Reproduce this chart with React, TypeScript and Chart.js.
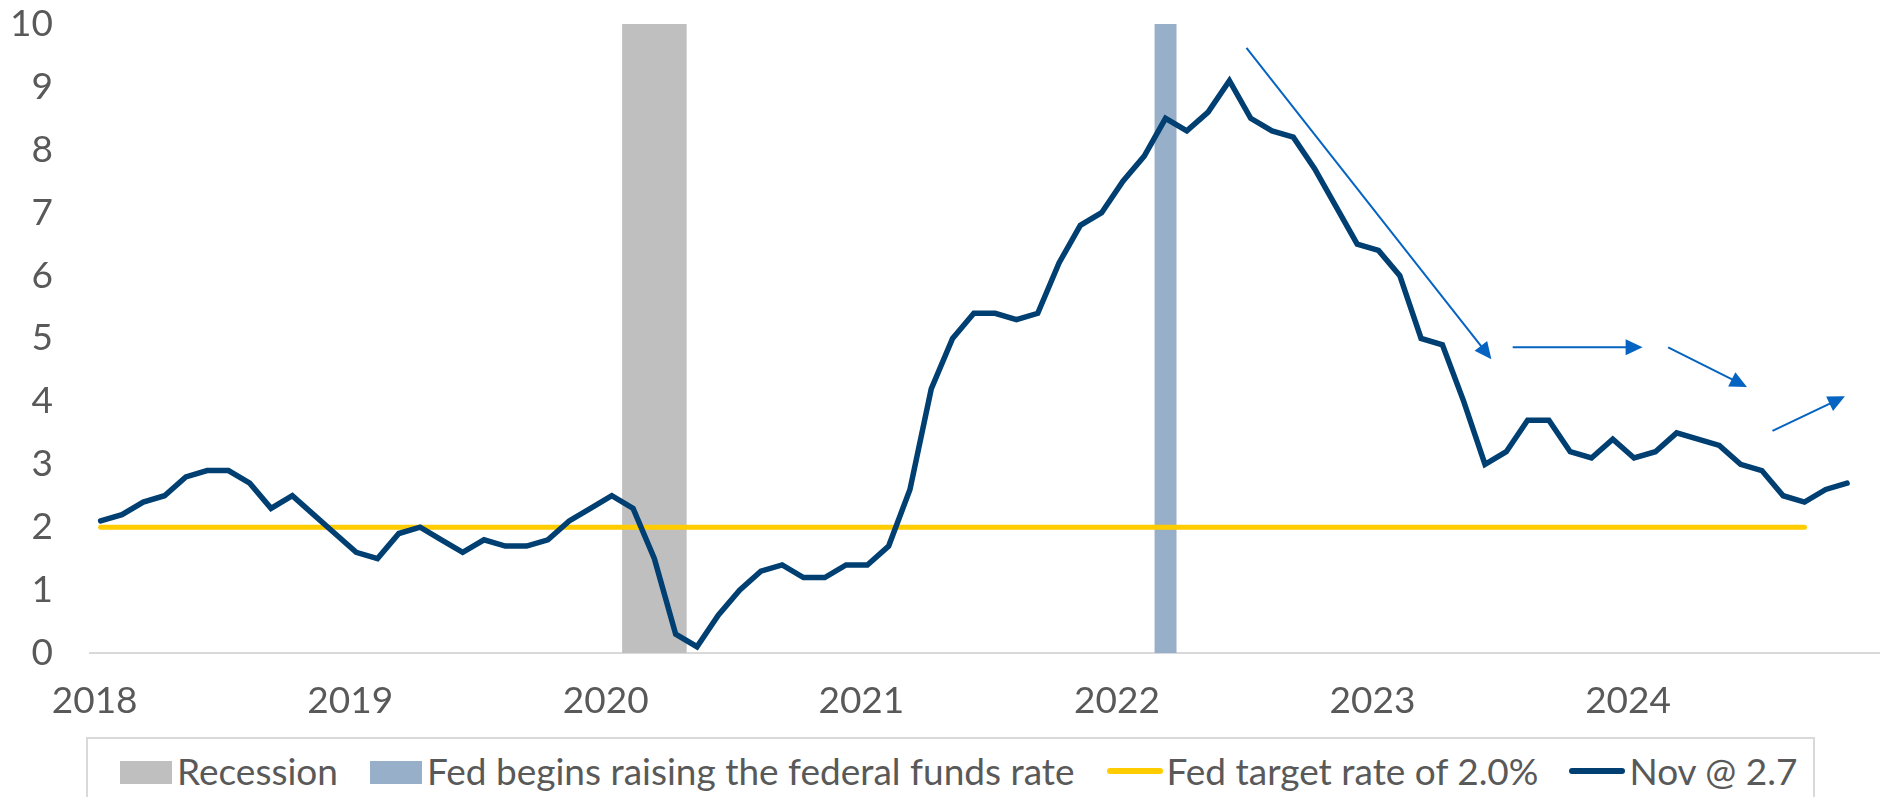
import React, { useEffect, useRef } from "react";
import { Chart, registerables } from "chart.js";

Chart.register(...registerables);

// ---- Data ----
const years: string[] = ["2018", "2019", "2020", "2021", "2022", "2023", "2024"];
const monthNames: string[] = ["Jan", "Feb", "Mar", "Apr", "May", "Jun", "Jul", "Aug", "Sep", "Oct", "Nov", "Dec"];
const months: string[] = years.flatMap((y) => monthNames.map((m) => `${m} ${y}`));

// CPI year-over-year, Jan 2018 – Nov 2024
const cpi: number[] = [
  2.1, 2.2, 2.4, 2.5, 2.8, 2.9, 2.9, 2.7, 2.3, 2.5, 2.2, 1.9,
  1.6, 1.5, 1.9, 2.0, 1.8, 1.6, 1.8, 1.7, 1.7, 1.8, 2.1, 2.3,
  2.5, 2.3, 1.5, 0.3, 0.1, 0.6, 1.0, 1.3, 1.4, 1.2, 1.2, 1.4,
  1.4, 1.7, 2.6, 4.2, 5.0, 5.4, 5.4, 5.3, 5.4, 6.2, 6.8, 7.0,
  7.5, 7.9, 8.5, 8.3, 8.6, 9.1, 8.5, 8.3, 8.2, 7.7, 7.1, 6.5,
  6.4, 6.0, 5.0, 4.9, 4.0, 3.0, 3.2, 3.7, 3.7, 3.2, 3.1, 3.4,
  3.1, 3.2, 3.5, 3.4, 3.3, 3.0, 2.9, 2.5, 2.4, 2.6, 2.7,
];

const targetRate = 2.0;
const targetEndMonth = "Sep 2024";
const recessionMonths: string[] = ["Feb 2020", "Mar 2020", "Apr 2020"];
const fedHikeMonths: string[] = ["Mar 2022"];
const shadeTop = 10;

const yTicks: number[] = [0, 1, 2, 3, 4, 5, 6, 7, 8, 9, 10];

// Trend arrows (in month-index / value coordinates)
const arrowFromIdx: number[] = [53.8, 66.3, 73.6, 78.5];
const arrowFromVal: number[] = [9.62, 4.86, 4.86, 3.53];
const arrowToIdx: number[] = [65.3, 72.4, 77.3, 81.9];
const arrowToVal: number[] = [4.67, 4.86, 4.23, 4.08];

const legendLabels: string[] = [
  "Recession",
  "Fed begins raising the federal funds rate",
  "Fed target rate of 2.0%",
  "Nov @ 2.7",
];

// ---- Styles ----
const COLORS = {
  navy: "#003F72",
  yellow: "#FFCC00",
  gray: "#BFBFBF",
  blue: "#97AFC8",
  arrow: "#0563C1",
  text: "#595959",
  axis: "#D9D9D9",
};
const FONT = "Lato, 'Open Sans', sans-serif";
const FONT_SIZE = 37;

const targetEndIdx = months.indexOf(targetEndMonth);
const targetData = months.map((_, i) => (i <= targetEndIdx ? targetRate : null));
const recessionData = months.map((m) => (recessionMonths.includes(m) ? shadeTop : null));
const fedData = months.map((m) => (fedHikeMonths.includes(m) ? shadeTop : null));

const arrowPlugin = {
  id: "trendArrows",
  afterDatasetsDraw(chart: any) {
    const { ctx, scales } = chart;
    const xs = scales.x;
    const ys = scales.y;
    ctx.save();
    ctx.strokeStyle = COLORS.arrow;
    ctx.fillStyle = COLORS.arrow;
    ctx.lineWidth = 2;
    const headLen = 17;
    const headHalf = 8;
    for (let i = 0; i < arrowFromIdx.length; i++) {
      const x1 = xs.getPixelForValue(arrowFromIdx[i]);
      const y1 = ys.getPixelForValue(arrowFromVal[i]);
      const x2 = xs.getPixelForValue(arrowToIdx[i]);
      const y2 = ys.getPixelForValue(arrowToVal[i]);
      const ang = Math.atan2(y2 - y1, x2 - x1);
      const bx = x2 - headLen * Math.cos(ang);
      const by = y2 - headLen * Math.sin(ang);
      ctx.beginPath();
      ctx.moveTo(x1, y1);
      ctx.lineTo(bx + 2 * Math.cos(ang), by + 2 * Math.sin(ang));
      ctx.stroke();
      ctx.beginPath();
      ctx.moveTo(x2, y2);
      ctx.lineTo(bx + headHalf * Math.sin(ang), by - headHalf * Math.cos(ang));
      ctx.lineTo(bx - headHalf * Math.sin(ang), by + headHalf * Math.cos(ang));
      ctx.closePath();
      ctx.fill();
    }
    ctx.restore();
  },
};

function ChartCanvas() {
  const ref = useRef<HTMLCanvasElement | null>(null);
  useEffect(() => {
    if (!ref.current) return;
    const chart = new Chart(ref.current, {
      type: "line",
      data: {
        labels: months,
        datasets: [
          {
            type: "line",
            label: legendLabels[3],
            data: cpi,
            borderColor: COLORS.navy,
            backgroundColor: COLORS.navy,
            borderWidth: 5.5,
            pointRadius: 0,
            borderCapStyle: "round",
            borderJoinStyle: "miter",
            tension: 0,
            order: 0,
          },
          {
            type: "line",
            label: legendLabels[2],
            data: targetData,
            borderColor: COLORS.yellow,
            backgroundColor: COLORS.yellow,
            borderWidth: 5,
            pointRadius: 0,
            borderCapStyle: "round",
            spanGaps: false,
            order: 1,
          },
          {
            type: "bar",
            label: legendLabels[1],
            data: fedData,
            backgroundColor: COLORS.blue,
            borderWidth: 0,
            barPercentage: 1,
            categoryPercentage: 1,
            grouped: false,
            order: 2,
          } as any,
          {
            type: "bar",
            label: legendLabels[0],
            data: recessionData,
            backgroundColor: COLORS.gray,
            borderWidth: 0,
            barPercentage: 1,
            categoryPercentage: 1,
            grouped: false,
            order: 3,
          } as any,
        ],
      },
      options: {
        responsive: false,
        animation: false,
        events: [],
        layout: { padding: { top: 24, right: 8, left: 0, bottom: 0 } },
        plugins: {
          legend: { display: false },
          tooltip: { enabled: false },
        },
        scales: {
          x: {
            type: "category",
            offset: true,
            grid: { display: false, drawTicks: false },
            border: { display: true, color: COLORS.axis, width: 2 },
            ticks: {
              autoSkip: false,
              maxRotation: 0,
              minRotation: 0,
              padding: 26,
              labelOffset: -6,
              color: COLORS.text,
              font: { family: FONT, size: FONT_SIZE },
              callback: (_v: any, idx: number) => (idx % 12 === 0 ? years[idx / 12] : ""),
            },
            afterFit: (scale: any) => {
              scale.height = 82;
              scale.paddingLeft = 0;
              scale.paddingRight = 0;
            },
          },
          y: {
            min: 0,
            max: 10,
            grid: { display: false, drawTicks: false },
            border: { display: false },
            afterBuildTicks: (scale: any) => {
              scale.ticks = yTicks.map((v) => ({ value: v }));
            },
            ticks: {
              padding: 37,
              color: COLORS.text,
              font: { family: FONT, size: FONT_SIZE },
            },
            afterFit: (scale: any) => {
              scale.width = 90;
              scale.paddingTop = 0;
              scale.paddingBottom = 0;
            },
          },
        },
      },
      plugins: [arrowPlugin],
    } as any);
    return () => chart.destroy();
  }, []);
  return <canvas ref={ref} width={1887} height={735} style={{ display: "block", width: 1887, height: 735 }} />;
}

function Legend() {
  const swatchRect = (color: string) => (
    <span style={{ display: "inline-block", width: 52, height: 23, background: color, marginRight: 5, marginTop: 4 }} />
  );
  const swatchLine = (color: string) => (
    <span style={{ display: "inline-block", width: 56, height: 6, borderRadius: 3, background: color, marginRight: 4 }} />
  );
  const item = (sw: React.ReactNode, label: string, ml: number) => (
    <div style={{ display: "flex", alignItems: "center", marginLeft: ml }}>
      {sw}
      <span style={{ lineHeight: 1 }}>{label}</span>
    </div>
  );
  return (
    <div
      style={{
        position: "absolute",
        left: 86,
        top: 737,
        width: 1729,
        height: 70,
        border: `2px solid ${COLORS.axis}`,
        boxSizing: "border-box",
        fontFamily: FONT,
        fontSize: FONT_SIZE,
        color: COLORS.text,
      }}
    >
      <div style={{ position: "absolute", top: 13, left: 0, height: 37, display: "flex", alignItems: "center" }}>
        {item(swatchRect(COLORS.gray), legendLabels[0], 32)}
        {item(swatchRect(COLORS.blue), legendLabels[1], 32)}
        {item(swatchLine(COLORS.yellow), legendLabels[2], 32)}
        {item(swatchLine(COLORS.navy), legendLabels[3], 31)}
      </div>
    </div>
  );
}

export default function App() {
  return (
    <div style={{ position: "absolute", left: 0, top: 0, width: 1887, height: 797, overflow: "hidden", background: "#fff" }}>
      <ChartCanvas />
      <Legend />
    </div>
  );
}
